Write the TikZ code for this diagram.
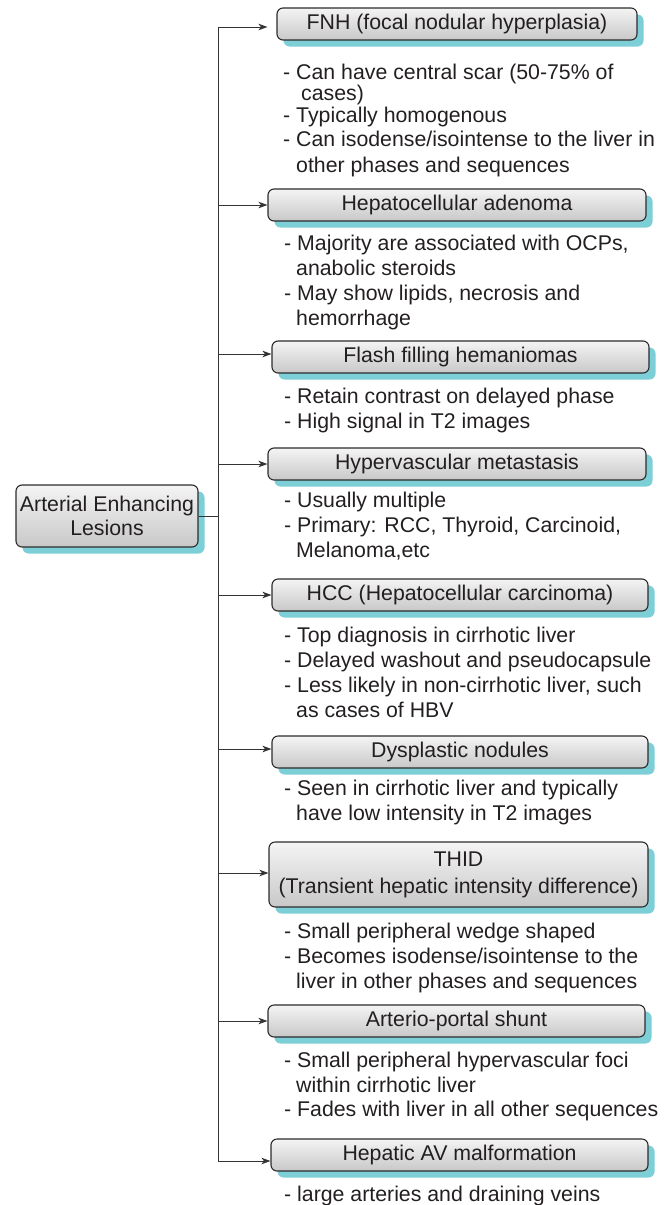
\documentclass[tikz,border=0pt]{standalone}
\usepackage{fontspec}
\setmainfont{Liberation Sans}
\usetikzlibrary{arrows.meta,shadows}
\definecolor{shadowc}{HTML}{7CCFD6}
\definecolor{boxtop}{HTML}{F4F4F4}
\definecolor{boxbot}{HTML}{C8C8C8}
\definecolor{edgec}{HTML}{2B2B2B}
\definecolor{linec}{HTML}{333333}
\definecolor{txt}{HTML}{231F20}
\tikzset{
  catbox/.style={draw=edgec, line width=1.1pt, rounded corners=6pt,
    top color=boxtop, bottom color=boxbot, inner sep=0pt, text=txt,
    font=\fontsize{21.3}{25}\selectfont,
    drop shadow={shadow xshift=6.5pt, shadow yshift=-6.5pt, fill=shadowc, opacity=1}},
  onebox/.style={catbox, text height=15pt, text depth=4.5pt},
  desc/.style={anchor=base west, inner sep=0pt, text=txt, font=\fontsize{21.3}{25}\selectfont},
  arr/.style={draw=linec, line width=1pt, -{Stealth[length=9pt,width=6.5pt,inset=2.5pt]}},
  link/.style={draw=linec, line width=1pt}
}
\begin{document}
\begin{tikzpicture}[x=1pt,y=-1pt]
\useasboundingbox (0,0) rectangle (670,1205);
% left box
\node[catbox, align=center, minimum width=182pt, minimum height=62pt] (L) at (107,516) {Arterial Enhancing\\[-1pt]Lesions};
% category boxes
\node[onebox, minimum width=360pt, minimum height=32pt] (b1) at (457,24) {FNH (focal nodular hyperplasia)};
\node[onebox, minimum width=378pt, minimum height=32pt] (b2) at (457,205) {Hepatocellular adenoma};
\node[onebox, minimum width=377pt, minimum height=32pt] (b3) at (460.5,357) {Flash filling hemaniomas};
\node[onebox, minimum width=378pt, minimum height=32pt] (b4) at (457,464) {Hypervascular metastasis};
\node[onebox, minimum width=376pt, minimum height=32pt] (b5) at (460,595) {HCC (Hepatocellular carcinoma)};
\node[onebox, minimum width=376pt, minimum height=32pt] (b6) at (460,752) {Dysplastic nodules};
\node[catbox, align=center, minimum width=379pt, minimum height=65pt] (b7) at (458.5,874.5) {THID\\[2pt](Transient hepatic intensity difference)};
\node[onebox, minimum width=377pt, minimum height=32pt] (b8) at (456.5,1021) {Arterio-portal shunt};
\node[onebox, minimum width=377pt, minimum height=32pt] (b9) at (459.5,1155) {Hepatic AV malformation};
% connectors
\coordinate (j0) at (218,516);
\coordinate (jt) at (218,27);
\coordinate (jb) at (218,1161);
\draw[link] (jt) -- (jb);
\draw[link] (L.east) -- (j0);
\draw[arr, shorten >=9pt] (jt) -- (jt -| b1.west);
\draw[arr] (b2.west -| j0) -- (b2.west);
\draw[arr] ([yshift=3pt]b3.west -| j0) -- ([yshift=3pt]b3.west);
\draw[arr] (b4.west -| j0) -- (b4.west);
\draw[arr] (b5.west -| j0) -- (b5.west);
\draw[arr] ([yshift=3pt]b6.west -| j0) -- ([yshift=3pt]b6.west);
\draw[arr] ([yshift=1.5pt]b7.west -| j0) -- ([yshift=1.5pt]b7.west);
\draw[arr] (b8.west -| j0) -- (b8.west);
\draw[arr] (jb) -- (jb -| b9.west);
% descriptions
\node[desc] (d11) at (283,79) {- Can have central scar (50-75\% of};
\node[desc] (d12) at (301,100) {cases)};
\node[desc] (d13) at (283,122) {- Typically homogenous};
\node[desc] (d14) at (283,146) {- Can isodense/isointense to the liver in};
\node[desc] (d15) at (296,172) {other phases and sequences};
\node[desc] (d21) at (284,250) {- Majority are associated with OCPs,};
\node[desc] (d22) at (296,275) {anabolic steroids};
\node[desc] (d23) at (284,300) {- May show lipids, necrosis and};
\node[desc] (d24) at (296,325) {hemorrhage};
\node[desc] (d31) at (284,403) {- Retain contrast on delayed phase};
\node[desc] (d32) at (284,428) {- High signal in T2 images};
\node[desc] (d41) at (284,507) {- Usually multiple};
\node[desc] (d42) at (284,532) {- Primary: RCC, Thyroid, Carcinoid,};
\node[desc] (d43) at (296,557) {Melanoma,etc};
\node[desc] (d51) at (284,642) {- Top diagnosis in cirrhotic liver};
\node[desc] (d52) at (284,667) {- Delayed washout and pseudocapsule};
\node[desc] (d53) at (284,692) {- Less likely in non-cirrhotic liver, such};
\node[desc] (d54) at (296,717) {as cases of HBV};
\node[desc] (d61) at (284,795) {- Seen in cirrhotic liver and typically};
\node[desc] (d62) at (296,820) {have low intensity in T2 images};
\node[desc] (d71) at (284,938) {- Small peripheral wedge shaped};
\node[desc] (d72) at (284,963) {- Becomes isodense/isointense to the};
\node[desc] (d73) at (296,988) {liver in other phases and sequences};
\node[desc] (d81) at (284,1067) {- Small peripheral hypervascular foci};
\node[desc] (d82) at (296,1092) {within cirrhotic liver};
\node[desc] (d83) at (284,1116) {- Fades with liver in all other sequences};
\node[desc] (d91) at (284,1201) {- large arteries and draining veins};
\end{tikzpicture}
\end{document}
